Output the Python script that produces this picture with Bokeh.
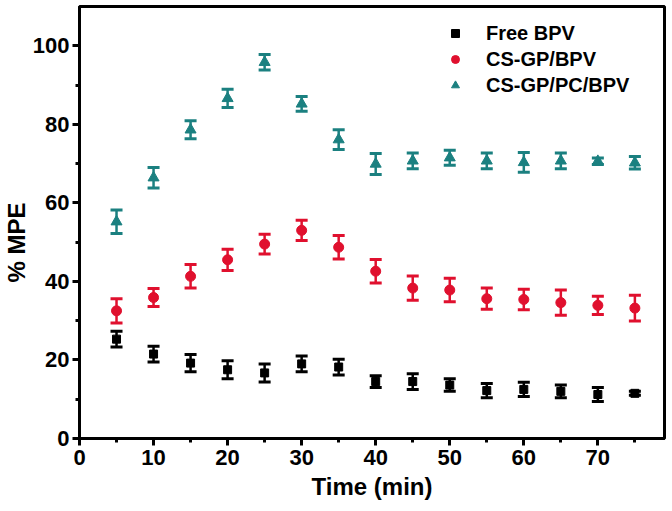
from bokeh.plotting import figure
from bokeh.models import Whisker, ColumnDataSource, Legend, LegendItem, Range1d, FixedTicker, Title
from bokeh.embed import file_html
from bokeh.resources import INLINE

time = [5, 10, 15, 20, 25, 30, 35, 40, 45, 50, 55, 60, 65, 70, 75]
free_bpv = [25.3, 21.5, 19.2, 17.5, 16.7, 19.0, 18.2, 14.5, 14.5, 13.6, 12.2, 12.5, 12.0, 11.2, 11.5]
free_err = [2.0, 2.0, 2.2, 2.3, 2.3, 2.0, 2.0, 1.5, 2.0, 1.6, 1.8, 1.8, 1.6, 1.8, 0.5]
csgp_bpv = [32.5, 35.9, 41.3, 45.5, 49.5, 53.0, 48.7, 42.6, 38.3, 37.8, 35.6, 35.4, 34.6, 33.9, 33.2]
csgp_err = [3.1, 2.3, 3.0, 2.7, 2.5, 2.6, 3.0, 3.0, 3.1, 3.0, 2.7, 2.6, 3.2, 2.3, 3.3]
cspc_bpv = [55.2, 66.4, 78.6, 86.6, 95.8, 85.2, 76.1, 69.9, 70.7, 71.5, 70.7, 70.3, 70.7, 70.6, 70.2]
cspc_err = [3.0, 2.6, 2.3, 2.3, 2.0, 1.9, 2.5, 2.7, 2.0, 1.9, 2.0, 2.5, 2.0, 0.8, 1.6]

labels = ["Free BPV", "CS-GP/BPV", "CS-GP/PC/BPV"]
colors = ["#000000", "#e0102e", "#1b8080"]
markers = ["square", "circle", "triangle"]
sizes = [8, 10, 11]

FONT = "Liberation Sans"

p = figure(width=666, height=502, output_backend="svg", toolbar_location=None,
           x_range=Range1d(0, 79), y_range=Range1d(0, 110),
           min_border_left=78, min_border_right=2, min_border_top=6, min_border_bottom=0)

p.xgrid.visible = False
p.ygrid.visible = False
p.outline_line_color = "black"
p.outline_line_width = 3
p.background_fill_color = "white"
p.border_fill_color = "white"

for ax in (p.xaxis[0], p.yaxis[0]):
    ax.axis_line_width = 3
    ax.major_tick_line_width = 3
    ax.minor_tick_line_width = 3
    ax.major_tick_out = 7
    ax.major_tick_in = 0
    ax.minor_tick_out = 4
    ax.minor_tick_in = 0
    ax.major_label_text_font = FONT
    ax.major_label_text_font_style = "bold"
    ax.major_label_text_font_size = "22px"
    ax.major_label_text_color = "black"
    ax.axis_label_text_font = FONT
    ax.axis_label_text_font_style = "bold"
    ax.axis_label_text_font_size = "24px"
    ax.axis_label_text_color = "black"

p.xaxis.ticker = FixedTicker(ticks=[0, 10, 20, 30, 40, 50, 60, 70],
                             minor_ticks=[5, 15, 25, 35, 45, 55, 65, 75])
p.yaxis.ticker = FixedTicker(ticks=[0, 20, 40, 60, 80, 100],
                             minor_ticks=[10, 30, 50, 70, 90])
p.xaxis.axis_label = "Time (min)"
p.xaxis.major_label_standoff = 4
p.yaxis.major_label_standoff = 3
p.xaxis.axis_label_standoff = 5

ytitle = Title(text="% MPE", align="left", offset=156, standoff=0,
               text_font=FONT, text_font_style="bold", text_font_size="24px",
               text_color="black")
p.add_layout(ytitle, "left")

items = []
for vals, errs, lab, col, mk, sz in zip([free_bpv, csgp_bpv, cspc_bpv],
                                          [free_err, csgp_err, cspc_err],
                                          labels, colors, markers, sizes):
    src = ColumnDataSource(dict(x=time, y=vals,
                                lo=[v - e for v, e in zip(vals, errs)],
                                hi=[v + e for v, e in zip(vals, errs)]))
    w = Whisker(base="x", lower="lo", upper="hi", source=src,
                line_color=col, line_width=2.5, dimension="height")
    w.upper_head.size = 12
    w.lower_head.size = 12
    w.upper_head.line_color = col
    w.lower_head.line_color = col
    w.upper_head.line_width = 3
    w.lower_head.line_width = 3
    p.add_layout(w)
    r = p.scatter("x", "y", source=src, marker=mk, size=sz,
                  fill_color=col, line_color=col)
    items.append(LegendItem(label=lab, renderers=[r]))

legend = Legend(items=items, location=(366, 340), orientation="vertical",
                border_line_color=None, background_fill_alpha=0,
                label_text_font=FONT, label_text_font_style="bold",
                label_text_font_size="20px", label_text_color="black",
                glyph_width=20, glyph_height=26, label_height=26,
                label_standoff=21, spacing=0, padding=0, margin=0)
p.add_layout(legend, "center")

open("out.html", "w").write(file_html(p, INLINE))
